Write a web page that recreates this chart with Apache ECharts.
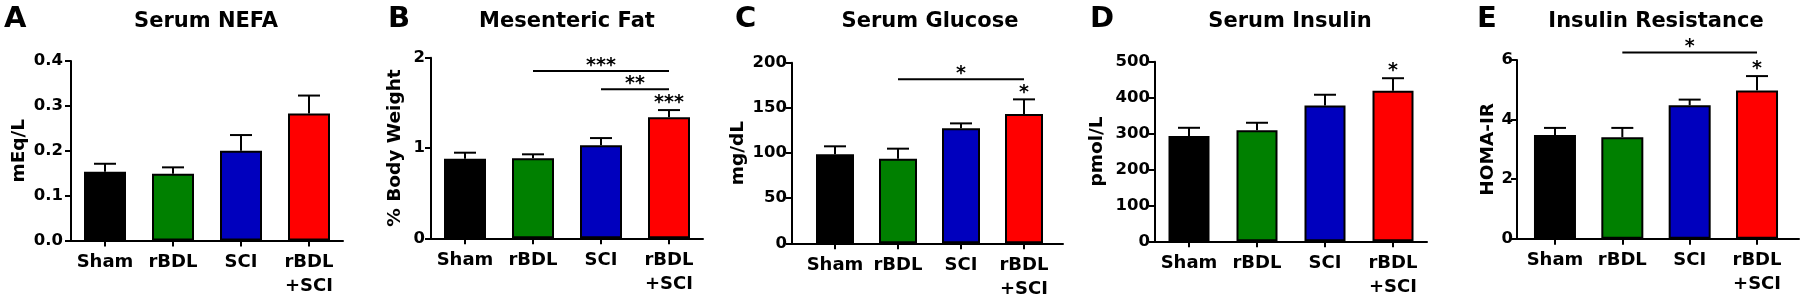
<!DOCTYPE html>
<html><head><meta charset="utf-8">
<script src="https://cdn.jsdelivr.net/npm/echarts@6/dist/echarts.min.js"></script>
<style>html,body{margin:0;padding:0;background:#fff}#c{width:1800px;height:303px}</style>
</head><body><div id="c"></div>
<script>
// ---------- data ----------
const categories = ['Sham', 'rBDL', 'SCI', 'rBDL\n+SCI'];
const barColors = ['#000000', '#008000', '#0000be', '#ff0000'];

const nefaMean = [0.153, 0.149, 0.200, 0.283];
const nefaSem = [0.018, 0.014, 0.035, 0.040];
const fatMean = [0.882, 0.886, 1.03, 1.34];
const fatSem = [0.066, 0.044, 0.08, 0.08];
const glucoseMean = [98.5, 93.7, 127.3, 143.2];
const glucoseSem = [8.9, 11.1, 5.5, 16.2];
const insulinMean = [293, 309, 378, 419];
const insulinSem = [23, 21, 30, 35];
const homaMean = [3.48, 3.41, 4.48, 4.98];
const homaSem = [0.24, 0.31, 0.19, 0.48];

// significance brackets: [fromIndex, toIndex, yValue, label]
const nefaBrackets = [];
const fatBrackets = [[1, 3, 1.853, '***'], [2, 3, 1.65, '**']];
const glucoseBrackets = [[1, 3, 181.6, '*']];
const insulinBrackets = [];
const homaBrackets = [[1, 3, 6.25, '*']];
// stars over single bars: [index, yValue, label]
const nefaStars = [];
const fatStars = [[3, 1.53, '***']];
const glucoseStars = [[3, 169.8, '*']];
const insulinStars = [[3, 481.6, '*']];
const homaStars = [[3, 5.78, '*']];

// axis ticks
const nefaAxis = [0, 0.4, 0.1];
const fatAxis = [0, 2, 1];
const glucoseAxis = [0, 200, 50];
const insulinAxis = [0, 500, 100];
const homaAxis = [0, 6, 2];

const panelLetters = ['A', 'B', 'C', 'D', 'E'];
const panelTitles = ['Serum NEFA', 'Mesenteric Fat', 'Serum Glucose', 'Serum Insulin', 'Insulin Resistance'];
const yNames = ['mEq/L', '% Body Weight', 'mg/dL', 'pmol/L', 'HOMA-IR'];

// ---------- layout ----------
const FONT = '"DejaVu Sans", "Liberation Sans", Arial, sans-serif';
const panels = [
  {mean: nefaMean, sem: nefaSem, br: nefaBrackets, st: nefaStars, ax: nefaAxis, dec: 1,
   frame: [71, 343, 61, 240.5], inner: [71, 343], barW: 42, lblMargin: 8, nameGap: 42,
   letterX: 4, titleX: 206},
  {mean: fatMean, sem: fatSem, br: fatBrackets, st: fatStars, ax: fatAxis, dec: 0,
   frame: [431, 703, 57.7, 238.3], inner: [431, 703], barW: 42, lblMargin: 6, nameGap: 26,
   letterX: 388, titleX: 567},
  {mean: glucoseMean, sem: glucoseSem, br: glucoseBrackets, st: glucoseStars, ax: glucoseAxis, dec: 0,
   frame: [792, 1063, 62.7, 243.3], inner: [803.5, 1055.5], barW: 38, lblMargin: 5, nameGap: 44,
   letterX: 735, titleX: 930},
  {mean: insulinMean, sem: insulinSem, br: insulinBrackets, st: insulinStars, ax: insulinAxis, dec: 0,
   frame: [1155, 1427, 61.7, 241.3], inner: [1155, 1427], barW: 41, lblMargin: 5, nameGap: 48,
   letterX: 1090, titleX: 1290},
  {mean: homaMean, sem: homaSem, br: homaBrackets, st: homaStars, ax: homaAxis, dec: 0,
   frame: [1517, 1799, 60, 238.7], inner: [1521.3, 1790.7], barW: 42, lblMargin: 4, nameGap: 19,
   letterX: 1477, titleX: 1656}
];

const W = 1800, H = 303;
const grid = [], xAxis = [], yAxis = [], series = [], graphic = [];

panels.forEach((p, k) => {
  const [fl, fr, ft, fb] = p.frame;
  const [il, ir] = p.inner;
  const gF = 2 * k, gI = 2 * k + 1;
  grid.push({left: fl, right: W - fr, top: ft, bottom: H - fb});
  grid.push({left: il, right: W - ir, top: ft, bottom: H - fb});
  // frame axes
  xAxis.push({type: 'category', gridIndex: gF, data: categories,
    axisLine: {lineStyle: {color: '#000', width: 2}}, axisTick: {show: false}, axisLabel: {show: false}});
  yAxis.push({type: 'value', gridIndex: gF, min: p.ax[0], max: p.ax[1], interval: p.ax[2],
    splitLine: {show: false},
    axisLine: {show: true, lineStyle: {color: '#000', width: 2}},
    axisTick: {show: true, length: 6, lineStyle: {color: '#000', width: 2}},
    axisLabel: {color: '#000', fontWeight: 'bold', fontSize: 16.5, fontFamily: FONT, margin: p.lblMargin,
      formatter: v => v.toFixed(p.dec)},
    name: yNames[k], nameLocation: 'middle', nameGap: p.nameGap,
    nameTextStyle: {color: '#000', fontWeight: 'bold', fontSize: 18.5, fontFamily: FONT}});
  // inner axes
  xAxis.push({type: 'category', gridIndex: gI, data: categories,
    axisLine: {show: false},
    axisTick: {show: true, alignWithLabel: true, length: 6, lineStyle: {color: '#000', width: 2}},
    axisLabel: {interval: 0, color: '#000', fontWeight: 'bold', fontSize: 18, fontFamily: FONT,
      lineHeight: 24, margin: 10}});
  yAxis.push({type: 'value', gridIndex: gI, min: p.ax[0], max: p.ax[1], interval: p.ax[2], show: false});

  series.push({type: 'bar', xAxisIndex: gI, yAxisIndex: gI, barWidth: p.barW,
    data: p.mean.map((v, i) => ({value: v, itemStyle: {color: barColors[i]}})),
    itemStyle: {borderColor: '#000', borderWidth: 2}, silent: true, animation: false});

  const errData = p.mean.map((v, i) => [i, v, v + p.sem[i]]);
  series.push({type: 'custom', xAxisIndex: gI, yAxisIndex: gI, z: 5, clip: false, animation: false,
    data: errData,
    renderItem: (params, api) => {
      const b = api.coord([api.value(0), api.value(1)]);
      const t = api.coord([api.value(0), api.value(2)]);
      return {type: 'group', children: [
        {type: 'line', shape: {x1: b[0], y1: b[1], x2: t[0], y2: t[1]}, style: {stroke: '#000', lineWidth: 2}},
        {type: 'line', shape: {x1: t[0] - 11, y1: t[1], x2: t[0] + 11, y2: t[1]}, style: {stroke: '#000', lineWidth: 2}}
      ]};
    }});

  if (p.br.length) {
    const br = p.br;
    series.push({type: 'custom', xAxisIndex: gI, yAxisIndex: gI, z: 5, clip: false, animation: false,
      data: br.map(d => [d[0], d[1], d[2]]),
      renderItem: (params, api) => {
        const a = api.coord([api.value(0), api.value(2)]);
        const c = api.coord([api.value(1), api.value(2)]);
        return {type: 'group', children: [
          {type: 'line', shape: {x1: a[0], y1: a[1], x2: c[0], y2: c[1]}, style: {stroke: '#000', lineWidth: 2}},
          {type: 'text', x: (a[0] + c[0]) / 2, y: a[1] - 5,
            style: {text: br[params.dataIndex][3], fill: '#000', align: 'center', verticalAlign: 'middle',
              font: 'bold 19px ' + FONT}}
        ]};
      }});
  }
  if (p.st.length) {
    const st = p.st;
    series.push({type: 'custom', xAxisIndex: gI, yAxisIndex: gI, z: 5, clip: false, animation: false,
      data: st.map(d => [d[0], d[1]]),
      renderItem: (params, api) => {
        const a = api.coord([api.value(0), api.value(1)]);
        return {type: 'text', x: a[0], y: a[1] + 3,
          style: {text: st[params.dataIndex][2], fill: '#000', align: 'center', verticalAlign: 'middle',
            font: 'bold 19px ' + FONT}};
      }});
  }

  graphic.push({type: 'text', left: p.letterX, top: 5,
    style: {text: panelLetters[k], fill: '#000', font: 'bold 29px ' + FONT}});
  graphic.push({type: 'text', x: p.titleX, y: 22,
    style: {text: panelTitles[k], fill: '#000', align: 'center', verticalAlign: 'middle', font: 'bold 21px ' + FONT}});
});

const chart = echarts.init(document.getElementById('c'), null, {renderer: 'canvas', width: W, height: H});
chart.setOption({backgroundColor: '#fff', animation: false, grid, xAxis, yAxis, series, graphic});
</script></body></html>
